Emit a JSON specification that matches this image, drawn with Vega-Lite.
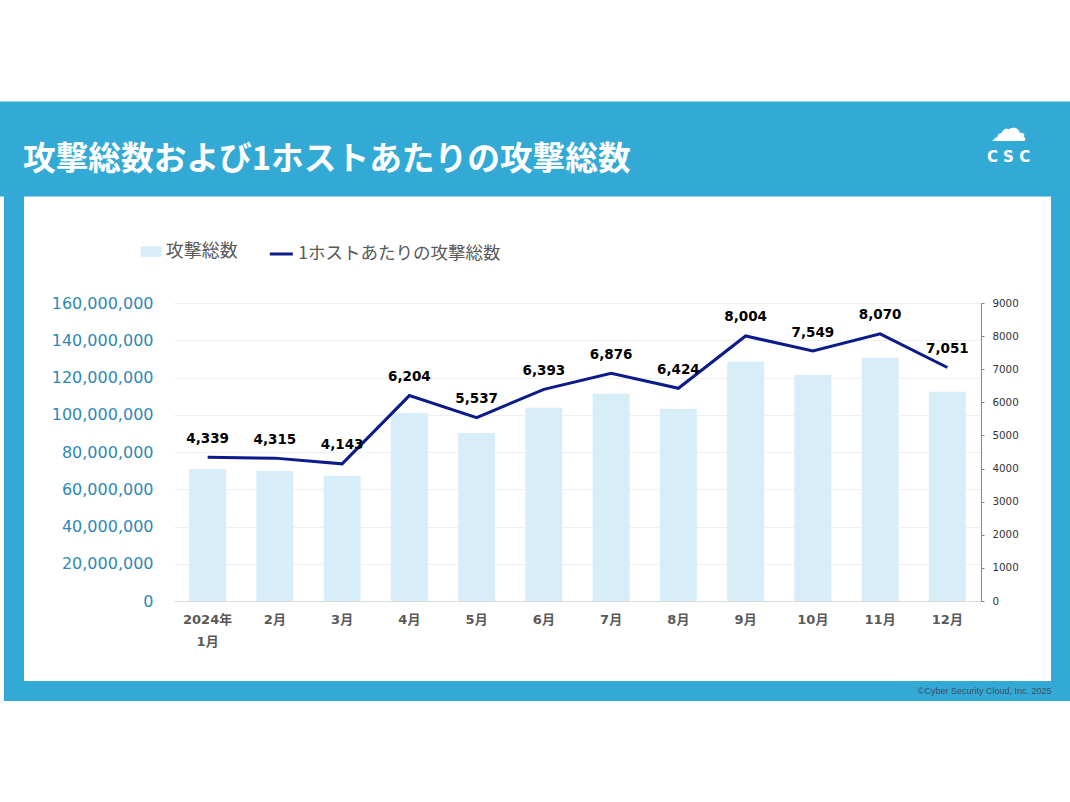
{
  "$schema": "https://vega.github.io/schema/vega-lite/v6.json",
  "width": 1047,
  "height": 505,
  "autosize": {"type": "none"},
  "padding": {"left": 14, "top": 186, "right": 9, "bottom": 111},
  "background": "white",
  "title": {
    "text": "攻撃総数および1ホストあたりの攻撃総数",
    "anchor": "start",
    "frame": "group",
    "color": "white",
    "font": "Noto Sans CJK JP",
    "fontSize": 32.7,
    "fontWeight": "bold",
    "baseline": "middle",
    "offset": -83,
    "dx": 9,
    "zindex": 1
  },
  "data": {
    "values": [
      {"month": "2024年1月", "attacks": 70900000, "perHost": 4339},
      {"month": "2月", "attacks": 69800000, "perHost": 4315},
      {"month": "3月", "attacks": 67300000, "perHost": 4143},
      {"month": "4月", "attacks": 100900000, "perHost": 6204},
      {"month": "5月", "attacks": 90200000, "perHost": 5537},
      {"month": "6月", "attacks": 103800000, "perHost": 6393},
      {"month": "7月", "attacks": 111300000, "perHost": 6876},
      {"month": "8月", "attacks": 103200000, "perHost": 6424},
      {"month": "9月", "attacks": 128500000, "perHost": 8004},
      {"month": "10月", "attacks": 121300000, "perHost": 7549},
      {"month": "11月", "attacks": 130600000, "perHost": 8070},
      {"month": "12月", "attacks": 112400000, "perHost": 7051}
    ]
  },
  "layer": [
    {
      "mark": {"type": "point", "opacity": 0},
      "encoding": {
        "x": {
          "field": "month",
          "type": "nominal",
          "sort": null,
          "scale": {"type": "band"},
          "axis": {
            "orient": "top",
            "offset": 37.5,
            "domain": true,
            "domainWidth": 95,
            "domainColor": "#33AAD6",
            "domainCap": "square",
            "labels": false,
            "ticks": false,
            "grid": false,
            "title": "C S C",
            "titleX": 994,
            "titleY": 7.5,
            "titleAlign": "center",
            "titleBaseline": "middle",
            "titleFont": "DejaVu Sans",
            "titleFontSize": 15,
            "titleFontWeight": "bold",
            "titleColor": "white"
          }
        }
      }
    },
    {
      "layer": [
        {
          "mark": {"type": "bar"},
          "encoding": {
            "x": {
              "field": "month",
              "type": "nominal",
              "sort": null,
              "scale": {"type": "band", "range": [160, 967], "paddingInner": 0.45, "paddingOuter": 0.225, "round": false},
              "axis": {
                "orient": "bottom",
                "offset": -90,
                "domain": true,
                "domainColor": "#D9D9D9",
                "domainWidth": 1,
                "ticks": false,
                "grid": false,
                "labelPadding": 12,
                "labelAngle": 0,
                "labelFont": "DejaVu Sans, Noto Sans CJK JP",
                "labelFontSize": 13,
                "labelFontWeight": "bold",
                "labelColor": "#595959",
                "labelLineHeight": 22,
                "labelExpr": "datum.value == '2024年1月' ? ['2024年', '1月'] : datum.value",
                "title": "©Cyber Security Cloud, Inc. 2025",
                "titleX": 1037,
                "titleY": 89,
                "titleAlign": "right",
                "titleBaseline": "middle",
                "titleFont": "Liberation Sans",
                "titleFontSize": 9,
                "titleFontWeight": "normal",
                "titleColor": "#3F4A63"
              }
            },
            "y": {
              "field": "attacks",
              "type": "quantitative",
              "scale": {"domain": [0, 160000000], "range": [415, 117], "nice": false, "zero": true},
              "axis": {
                "orient": "left",
                "offset": -160,
                "domain": false,
                "ticks": false,
                "labelPadding": 21,
                "values": [0, 20000000, 40000000, 60000000, 80000000, 100000000, 120000000, 140000000, 160000000],
                "labelExpr": "format(datum.value, ',')",
                "labelFont": "DejaVu Sans",
                "labelFontSize": 16,
                "labelColor": "#2F88B4",
                "grid": true,
                "gridColor": "#EFEFEF",
                "gridWidth": 1,
                "title": null
              }
            },
            "fill": {
              "datum": "攻撃総数",
              "type": "nominal",
              "scale": {"range": ["#D7EEF8"]},
              "legend": {
                "orient": "none",
                "legendX": 126.7,
                "legendY": 55,
                "direction": "horizontal",
                "title": null,
                "padding": 0,
                "labelFont": "Noto Sans CJK JP",
                "labelFontSize": 18,
                "labelColor": "#595959",
                "labelOffset": 4,
                "labelLimit": 400,
                "symbolType": "M-1,-0.5H1V0.5H-1Z",
                "symbolSize": 441,
                "symbolStrokeWidth": 0
              }
            }
          }
        },
        {
          "layer": [
            {
              "mark": {"type": "line", "strokeWidth": 3},
              "encoding": {
                "x": {"field": "month", "type": "nominal", "sort": null},
                "y": {
                  "field": "perHost",
                  "type": "quantitative",
                  "scale": {"domain": [0, 9000], "range": [415, 117], "nice": false, "zero": true},
                  "axis": {
                    "orient": "right",
                    "offset": -80,
                    "values": [0, 1000, 2000, 3000, 4000, 5000, 6000, 7000, 8000, 9000],
                    "labelExpr": "format(datum.value, 'd')",
                    "domain": true,
                    "domainColor": "#868686",
                    "ticks": true,
                    "tickColor": "#868686",
                    "tickSize": 3,
                    "labelPadding": 8,
                    "labelFont": "DejaVu Sans",
                    "labelFontSize": 10.3,
                    "labelColor": "#333333",
                    "grid": false,
                    "title": "☁",
                    "titleAngle": 0,
                    "titleX": 27,
                    "titleY": -57,
                    "titleAlign": "center",
                    "titleBaseline": "middle",
                    "titleFont": "DejaVu Sans",
                    "titleFontSize": 37,
                    "titleFontWeight": "normal",
                    "titleColor": "white"
                  }
                },
                "stroke": {
                  "datum": "1ホストあたりの攻撃総数",
                  "type": "nominal",
                  "scale": {"range": ["#0B1C8A"]},
                  "legend": {
                    "orient": "none",
                    "legendX": 254.3,
                    "legendY": 55,
                    "direction": "horizontal",
                    "title": null,
                    "padding": 0,
                    "labelFont": "Noto Sans CJK JP",
                    "labelFontSize": 17.5,
                    "labelColor": "#595959",
                    "labelOffset": 4,
                    "labelLimit": 400,
                    "symbolType": "stroke",
                    "symbolSize": 529,
                    "symbolStrokeWidth": 3
                  }
                }
              }
            },
            {
              "mark": {"type": "text", "dy": -18.5, "font": "DejaVu Sans", "fontWeight": "bold", "fontSize": 13.5, "fill": "#000000"},
              "encoding": {
                "x": {"field": "month", "type": "nominal", "sort": null},
                "y": {"field": "perHost", "type": "quantitative"},
                "text": {"field": "perHost", "type": "quantitative", "format": ","}
              }
            }
          ]
        }
      ],
      "resolve": {"scale": {"y": "independent"}}
    }
  ],
  "resolve": {"scale": {"x": "independent"}},
  "config": {
    "view": {"fill": "white", "stroke": "#33AAD6", "strokeWidth": 20},
    "axis": {"labelOverlap": false}
  }
}
